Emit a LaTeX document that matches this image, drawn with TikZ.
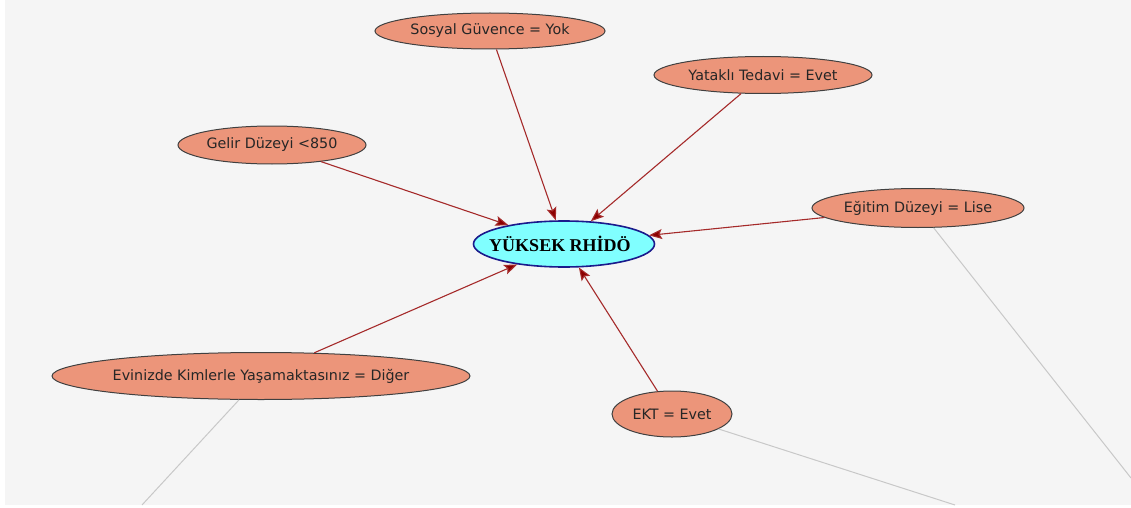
\documentclass[tikz,border=0pt]{standalone}
\usepackage{fontspec}
\setmainfont{DejaVu Sans}
\newfontfamily\serifbf{Liberation Serif}
\usetikzlibrary{shapes.geometric,arrows.meta}
\definecolor{bgc}{HTML}{F5F5F5}
\definecolor{salmonf}{HTML}{EC957A}
\definecolor{edgered}{HTML}{A52A2A}
\definecolor{tipred}{HTML}{8B0000}
\definecolor{cyanf}{HTML}{80FFFF}
\definecolor{navyb}{HTML}{1A1A8C}
\definecolor{grayln}{HTML}{C8C8C8}
\tikzset{
  attr/.style={ellipse, draw=black!75, line width=1pt, fill=salmonf, inner sep=0pt, font=\fontsize{14.3}{16}\selectfont, text=black!85},
  target/.style={ellipse, draw=navyb, line width=1.6pt, fill=cyanf, inner sep=0pt, font=\serifbf\bfseries\fontsize{18}{20}\selectfont},
  rel/.style={draw=edgered, line width=1.1pt, -{Stealth[length=13pt,width=10pt,inset=2.5pt,fill=tipred]}},
  weak/.style={draw=grayln, line width=1pt}
}
\begin{document}
\begin{tikzpicture}[x=1pt,y=-1pt]
\useasboundingbox (0,0) rectangle (1131,508);
\fill[white] (0,0) rectangle (1131,508);
\fill[bgc] (5,0) rectangle (1131,505);
\node[target, minimum width=181pt, minimum height=46pt] (c) at (564,244) {\makebox[0pt]{\hspace*{-8pt}YÜKSEK RHİDÖ}};
\node[attr, minimum width=230pt, minimum height=36pt] (sg) at (490,31) {\makebox[0pt]{Sosyal Güvence = Yok}};
\node[attr, minimum width=218pt, minimum height=37pt] (yt) at (763,75) {\makebox[0pt]{Yataklı Tedavi = Evet}};
\node[attr, minimum width=188pt, minimum height=38pt] (gd) at (272,145) {\makebox[0pt]{Gelir Düzeyi <850}};
\node[attr, minimum width=212pt, minimum height=39pt] (ed) at (918,208) {\makebox[0pt]{Eğitim Düzeyi = Lise}};
\node[attr, minimum width=418pt, minimum height=47pt] (ev) at (261,376) {\makebox[0pt]{Evinizde Kimlerle Yaşamaktasınız = Diğer}};
\node[attr, minimum width=120pt, minimum height=46pt] (ekt) at (672,414) {\makebox[0pt]{EKT = Evet}};
\coordinate (g1) at (142,505);
\coordinate (g2) at (955,505);
\coordinate (g3) at (1131,478);
\draw[weak] (ev) -- (g1);
\draw[weak] (ekt) -- (g2);
\draw[weak] (ed) -- (g3);
\draw[rel] (sg) -- (c);
\draw[rel] (yt) -- (c);
\draw[rel] (gd) -- (c);
\draw[rel] (ed) -- (c);
\draw[rel] (ev) -- (c);
\draw[rel] (ekt) -- (c);
\end{tikzpicture}
\end{document}
